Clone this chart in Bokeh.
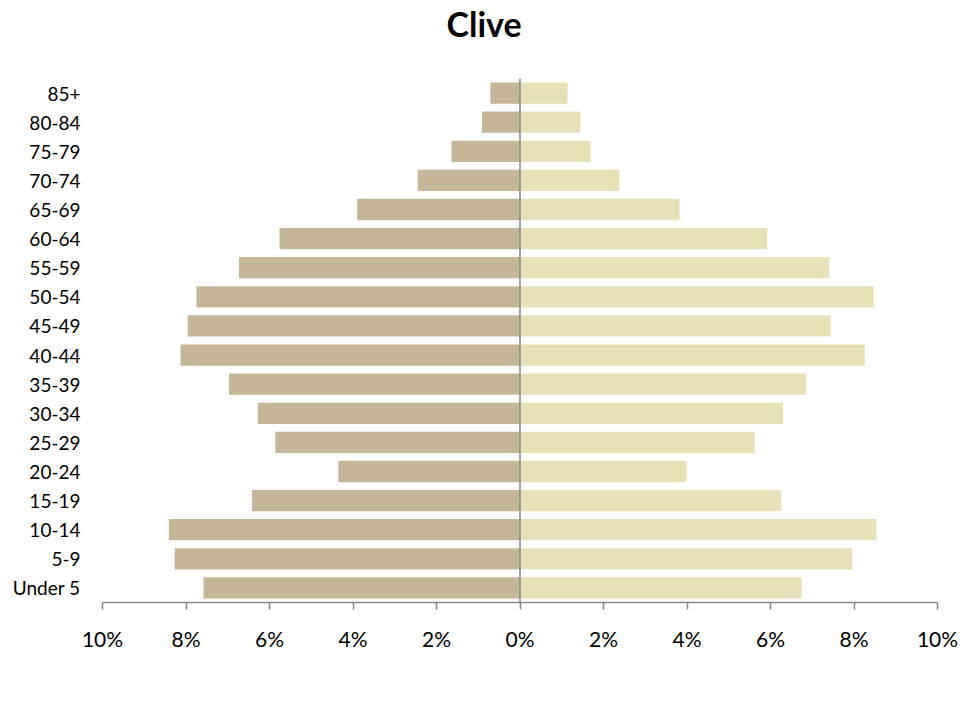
from bokeh.plotting import figure
from bokeh.models import (ColumnDataSource, FactorRange, Range1d, FixedTicker, Span,
                          Legend, LegendItem)
from bokeh.embed import file_html
from bokeh.resources import INLINE

title_text = "Clive"
age_groups = ["Under 5", "5-9", "10-14", "15-19", "20-24", "25-29", "30-34", "35-39",
              "40-44", "45-49", "50-54", "55-59", "60-64", "65-69", "70-74", "75-79",
              "80-84", "85+"]
male_pct = [7.58, 8.27, 8.41, 6.42, 4.35, 5.86, 6.28, 6.97,
            8.13, 7.96, 7.75, 6.73, 5.76, 3.90, 2.45, 1.64, 0.91, 0.71]
female_pct = [6.75, 7.96, 8.54, 6.26, 3.99, 5.62, 6.30, 6.86,
              8.26, 7.44, 8.47, 7.41, 5.92, 3.82, 2.38, 1.69, 1.45, 1.14]
x_ticks = [-10, -8, -6, -4, -2, 0, 2, 4, 6, 8, 10]
x_tick_labels = ["10%", "8%", "6%", "4%", "2%", "0%", "2%", "4%", "6%", "8%", "10%"]
series_names = ["Male", "Female"]

MALE_COLOR = "#C4B696"
FEMALE_COLOR = "#E8E1B8"
AXIS_COLOR = "#868686"
FONT = "Lato"

src = ColumnDataSource(dict(
    age=age_groups,
    male_left=[-v for v in male_pct],
    female_right=female_pct,
))

p = figure(frame_width=835, frame_height=524,
           output_backend="svg", toolbar_location=None,
           y_range=FactorRange(factors=age_groups, range_padding=0),
           x_range=Range1d(-10, 10),
           min_border_left=102, min_border_right=42, min_border_top=0,
           min_border_bottom=111)

xa = p.xaxis[0]
ya = p.yaxis[0]

p.title.text = title_text
p.title.text_font = FONT
p.title.text_font_size = "34px"
p.title.text_font_style = "bold"
p.title.text_color = "#000000"
p.title.align = "left"
p.title.offset = 344
p.title.standoff = 0
p.title.padding = dict(left=0, right=0, top=0, bottom=35)

male_r = p.hbar(y="age", left="male_left", right=0, height=0.73, source=src,
                fill_color=MALE_COLOR, line_color=None)
female_r = p.hbar(y="age", left=0, right="female_right", height=0.73, source=src,
                  fill_color=FEMALE_COLOR, line_color=None)

p.add_layout(Span(location=0, dimension="height", line_color=AXIS_COLOR, line_width=1.5))

p.xgrid.visible = False
p.ygrid.visible = False
p.outline_line_color = None

xa.ticker = FixedTicker(ticks=x_ticks)
xa.major_label_overrides = {t: l for t, l in zip(x_ticks, x_tick_labels)}
xa.axis_line_color = AXIS_COLOR
xa.axis_line_width = 1.5
xa.major_tick_line_color = AXIS_COLOR
xa.major_tick_line_width = 1.5
xa.major_tick_out = 7
xa.major_tick_in = 0
xa.minor_tick_line_color = None
xa.major_label_standoff = 16
xa.major_label_text_font = FONT
xa.major_label_text_font_size = "21px"
xa.major_label_text_color = "#000000"

ya.axis_line_color = None
ya.major_tick_line_color = None
ya.minor_tick_line_color = None
ya.major_tick_out = 0
ya.major_tick_in = 0
ya.major_label_standoff = 22
ya.major_label_text_font = FONT
ya.major_label_text_font_size = "19px"
ya.major_label_text_color = "#000000"

legend = Legend(items=[LegendItem(label=series_names[0], renderers=[male_r]),
                       LegendItem(label=series_names[1], renderers=[female_r])],
                location="bottom", orientation="horizontal",
                glyph_width=12, glyph_height=12, label_standoff=8, spacing=92,
                padding=0, margin=2, border_line_color=None,
                background_fill_alpha=0,
                label_text_font=FONT, label_text_font_size="22px",
                label_text_color="#000000")
p.add_layout(legend, "below")

open("out.html", "w").write(file_html(p, INLINE))
